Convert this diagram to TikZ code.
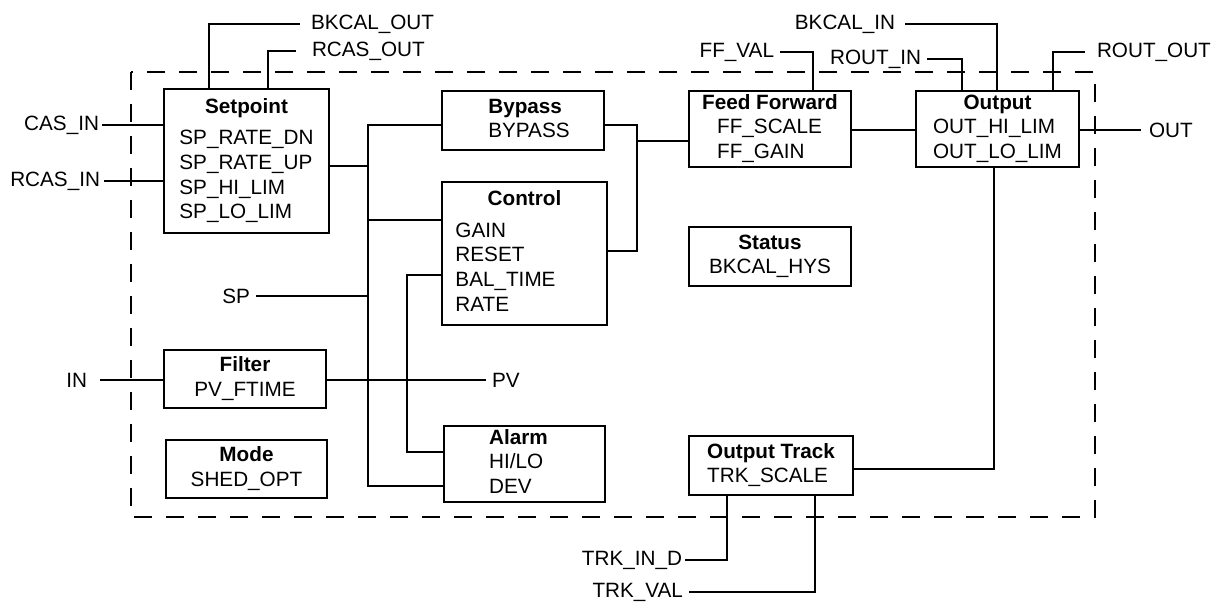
\documentclass[tikz,border=0pt]{standalone}
\usepackage{fontspec}
\setmainfont{Liberation Sans}

\begin{document}
\begin{tikzpicture}[x=1pt, y=-1pt, line width=2pt,
    font=\fontsize{20.7}{24.7}\selectfont,
    blk/.style={draw, inner sep=0pt, anchor=north west},
    lbl/.style={inner sep=5pt},
    frame/.style={dash pattern=on 18pt off 14pt}]
    \useasboundingbox (0,0) rectangle (1214,602);

    % block boundary
    \draw[frame] (131,72) rectangle (1095,517);

    % parameter groups
    \node[blk, minimum width=165pt, minimum height=144pt] (setp) at (163,88)
        {\begin{tabular}{@{}l@{}}\multicolumn{1}{@{}c@{}}{\bfseries Setpoint}\\[7pt]
         SP\_RATE\_DN\\ SP\_RATE\_UP\\ SP\_HI\_LIM\\ SP\_LO\_LIM\end{tabular}};
    \node[blk, minimum width=162pt, minimum height=59pt] (bypass) at (441,90)
        {\begin{tabular}{@{\hspace{12pt}}l@{}}\bfseries Bypass\\ BYPASS\end{tabular}};
    \node[blk, minimum width=165pt, minimum height=143pt] (ctrl) at (441,181)
        {\begin{tabular}{@{}l@{\hspace{38pt}}}\multicolumn{1}{@{}c@{}}{\bfseries Control}\\[7pt]
         GAIN\\ RESET\\ BAL\_TIME\\ RATE\end{tabular}};
    \node[blk, minimum width=162pt, minimum height=76pt] (ff) at (688,90)
        {\begin{tabular}{@{\hspace{15pt}}l@{}}\multicolumn{1}{@{}l@{}}{\bfseries Feed Forward}\\
         FF\_SCALE\\ FF\_GAIN\end{tabular}};
    \node[blk, minimum width=163pt, minimum height=76pt] (outp) at (915,90)
        {\begin{tabular}{@{}l@{}}\multicolumn{1}{@{}c@{}}{\bfseries Output}\\
         OUT\_HI\_LIM\\ OUT\_LO\_LIM\end{tabular}};
    \node[blk, minimum width=162pt, minimum height=59pt] (stat) at (688,226)
        {\begin{tabular}{@{}c@{}}\bfseries Status\\ BKCAL\_HYS\end{tabular}};
    \node[blk, minimum width=162pt, minimum height=58pt] (filt) at (163,349)
        {\begin{tabular}{@{}c@{}}\bfseries Filter\\ PV\_FTIME\end{tabular}};
    \node[blk, minimum width=161pt, minimum height=58pt] (mode) at (165,439)
        {\begin{tabular}{@{}c@{}}\bfseries Mode\\ SHED\_OPT\end{tabular}};
    \node[blk, minimum width=161pt, minimum height=76pt] (alarm) at (443,425)
        {\begin{tabular}{@{}l@{\hspace{12pt}}}\bfseries Alarm\\ HI/LO\\ DEV\end{tabular}};
    \node[blk, minimum width=164pt, minimum height=59pt] (otrk) at (688,435)
        {\begin{tabular}{@{}l@{}}\bfseries Output Track\\ TRK\_SCALE\end{tabular}};

    % inputs and outputs
    \node[lbl, inner xsep=10pt, anchor=west] (bkout) at (300,24) {BKCAL\_OUT};
    \node[lbl, inner xsep=15pt, anchor=west] (rcasout) at (296,51) {RCAS\_OUT};
    \node[lbl, inner xsep=2pt, anchor=east] (casin) at (102,125) {CAS\_IN};
    \node[lbl, inner xsep=3pt, anchor=east] (rcasin) at (104,181) {RCAS\_IN};
    \node[lbl, anchor=east] (sp) at (256,296) {SP};
    \node[lbl, inner xsep=12pt, anchor=east] (in) at (100,380) {IN};
    \node[lbl, anchor=west] (pv) at (486,380) {PV};
    \node[lbl, anchor=east] (ffval) at (780,52) {FF\_VAL};
    \node[lbl, anchor=east] (routin) at (927,59) {ROUT\_IN};
    \node[lbl, inner xsep=9pt, anchor=east] (bkin) at (905,24) {BKCAL\_IN};
    \node[lbl, inner xsep=11pt, anchor=west] (routout) at (1085,52) {ROUT\_OUT};
    \node[lbl, inner xsep=7pt, anchor=west] (out) at (1141,130) {OUT};
    \node[lbl, inner xsep=2pt, anchor=east] (trkind) at (685,560) {TRK\_IN\_D};
    \node[lbl, anchor=east] (trkval) at (689,592) {TRK\_VAL};

    % bends and buses
    \coordinate (b1) at (209,24);
    \coordinate (b2) at (268,51);
    \coordinate (tA) at (368,125);
    \coordinate (mA) at (368,166);
    \coordinate (cA) at (368,220);
    \coordinate (bA) at (368,486);
    \coordinate (tB) at (407,275);
    \coordinate (bB) at (407,452);
    \coordinate (tC) at (637,125);
    \coordinate (mC) at (637,141);
    \coordinate (bC) at (637,251);
    \coordinate (c1) at (813,52);
    \coordinate (c2) at (962,59);
    \coordinate (c3) at (997,24);
    \coordinate (c4) at (1053,52);
    \coordinate (c5) at (994,469);
    \coordinate (c6) at (727,560);
    \coordinate (c7) at (815,592);

    \draw (setp.north -| b1) |- (bkout.west);
    \draw (setp.north -| b2) |- (rcasout.west);
    \draw (casin.east) -- (casin.east -| setp.west);
    \draw (rcasin.east) -- (rcasin.east -| setp.west);
    \draw (setp.east |- mA) -- (mA);
    \draw (bypass.west |- tA) -- (tA) -- (bA) -- (alarm.west |- bA);
    \draw (cA) -- (ctrl.west |- cA);
    \draw (sp.east) -- (sp.east -| tA);
    \draw (ctrl.west |- tB) -- (tB) -- (bB) -- (alarm.west |- bB);
    \draw (in.east) -- (in.east -| filt.west);
    \draw (filt.east |- pv.west) -- (pv.west);
    \draw (bypass.east |- tC) -- (tC) -- (bC) -- (ctrl.east |- bC);
    \draw (mC) -- (ff.west |- mC);
    \draw (ff.east |- out.west) -- (outp.west |- out.west);
    \draw (outp.east |- out.west) -- (out.west);
    \draw (ffval.east) -| (ff.north -| c1);
    \draw (routin.east) -| (outp.north -| c2);
    \draw (bkin.east) -| (outp.north -| c3);
    \draw (outp.north -| c4) |- (routout.west);
    \draw (outp.south -| c5) |- (otrk.east |- c5);
    \draw (otrk.south -| c6) |- (trkind.east);
    \draw (otrk.south -| c7) |- (trkval.east);
\end{tikzpicture}
\end{document}
